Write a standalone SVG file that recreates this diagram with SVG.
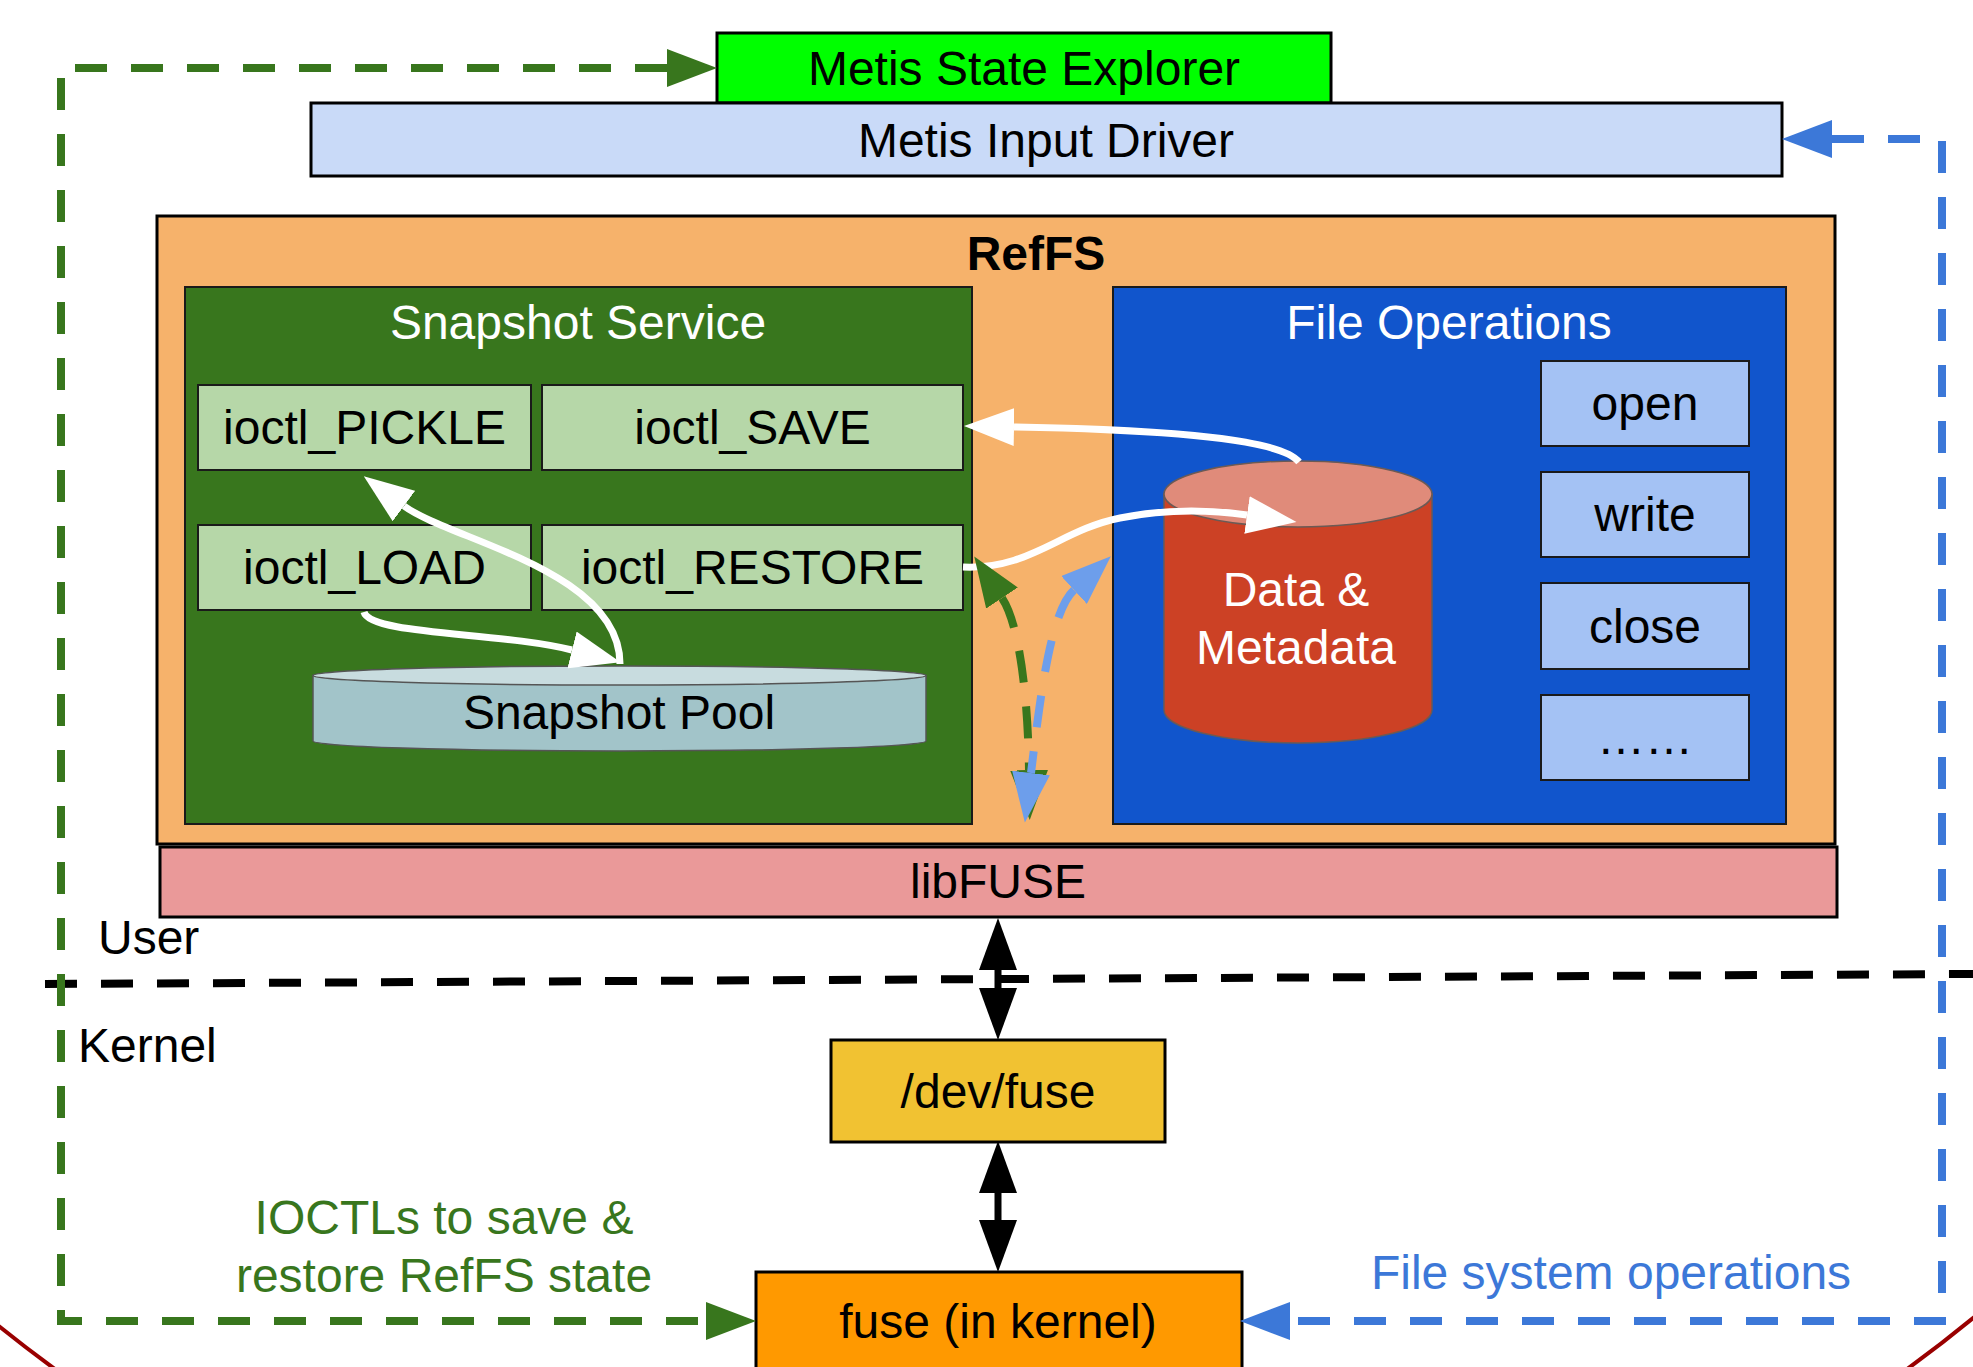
<svg xmlns="http://www.w3.org/2000/svg" width="1973" height="1367" viewBox="0 0 1973 1367">
<defs>
<style>
text{font-family:"Liberation Sans",Arial,sans-serif;font-size:48px;text-anchor:middle;fill:#000}
.box{stroke:#000;stroke-width:3}
.inner{stroke:#1a1a1a;stroke-width:2}
.w{fill:#fff}
.dg{fill:none;stroke:#38761d;stroke-width:8;stroke-dasharray:32 24}
.db{fill:none;stroke:#3c78d8;stroke-width:8;stroke-dasharray:32 24}
.dlb{fill:none;stroke:#6d9eeb;stroke-width:8;stroke-dasharray:32 24}
.wa{fill:none;stroke:#fff;stroke-width:7}
.ba{fill:none;stroke:#000;stroke-width:7}
</style>
<marker id="mw" viewBox="0 0 50 38" refX="0" refY="19" markerWidth="50" markerHeight="38" markerUnits="userSpaceOnUse" orient="auto-start-reverse"><path d="M0,0 L50,19 L0,38 Z" fill="#fff"/></marker>
<marker id="mg" viewBox="0 0 50 38" refX="0" refY="19" markerWidth="50" markerHeight="38" markerUnits="userSpaceOnUse" orient="auto-start-reverse"><path d="M0,0 L50,19 L0,38 Z" fill="#38761d"/></marker>
<marker id="mb" viewBox="0 0 50 38" refX="0" refY="19" markerWidth="50" markerHeight="38" markerUnits="userSpaceOnUse" orient="auto-start-reverse"><path d="M0,0 L50,19 L0,38 Z" fill="#3c78d8"/></marker>
<marker id="mlb" viewBox="0 0 50 38" refX="0" refY="19" markerWidth="50" markerHeight="38" markerUnits="userSpaceOnUse" orient="auto-start-reverse"><path d="M0,0 L50,19 L0,38 Z" fill="#6d9eeb"/></marker>
<marker id="mk" viewBox="0 0 52 38" refX="0" refY="19" markerWidth="52" markerHeight="38" markerUnits="userSpaceOnUse" orient="auto-start-reverse"><path d="M0,0 L52,19 L0,38 Z" fill="#000"/></marker>
</defs>
<rect width="1973" height="1367" fill="#fff"/>
<circle cx="981" cy="105" r="1567" fill="none" stroke="#990000" stroke-width="4"/>
<line x1="45" y1="984" x2="1973" y2="974" stroke="#000" stroke-width="8" stroke-dasharray="32 24"/>
<text x="98" y="954" style="text-anchor:start">User</text>
<text x="78" y="1062" style="text-anchor:start">Kernel</text>
<text x="444" y="1234" style="fill:#38761d">IOCTLs to save &amp;</text>
<text x="444" y="1292" style="fill:#38761d">restore RefFS state</text>
<text x="1611" y="1289" style="fill:#3c78d8">File system operations</text>

<g id="metis-state-explorer">
<rect class="box" x="717" y="33" width="614" height="70" fill="#00ff00"/>
<text x="1024" y="85">Metis State Explorer</text>
</g>
<g id="metis-input-driver">
<rect class="box" x="311" y="103" width="1471" height="73" fill="#c9daf8"/>
<text x="1046" y="157">Metis Input Driver</text>
</g>
<g id="reffs">
<rect class="box" x="157" y="216" width="1678" height="628" fill="#f6b26b"/>
<text x="1036" y="270" style="font-weight:bold">RefFS</text>
</g>
<g id="snapshot-service">
<rect class="inner" x="185" y="287" width="787" height="537" fill="#38761d"/>
<text class="w" x="578" y="339">Snapshot Service</text>
</g>
<g id="ioctl-pickle">
<rect class="inner" x="198" y="385" width="333" height="85" fill="#b6d7a8"/>
<text x="364.5" y="444">ioctl_PICKLE</text>
</g>
<g id="ioctl-save">
<rect class="inner" x="542" y="385" width="421" height="85" fill="#b6d7a8"/>
<text x="752.5" y="444">ioctl_SAVE</text>
</g>
<g id="ioctl-load">
<rect class="inner" x="198" y="525" width="333" height="85" fill="#b6d7a8"/>
<text x="364.5" y="584">ioctl_LOAD</text>
</g>
<g id="ioctl-restore">
<rect class="inner" x="542" y="525" width="421" height="85" fill="#b6d7a8"/>
<text x="752.5" y="584">ioctl_RESTORE</text>
</g>
<g id="snapshot-pool">
<path d="M313 675.5 V741 A306.5 10 0 0 0 926 741 V675.5 Z" fill="#a2c4c9" stroke="#555" stroke-width="1.5"/>
<ellipse cx="619.5" cy="675.5" rx="306.5" ry="9.5" fill="#c8dcdf" stroke="#555" stroke-width="1.5"/>
<text x="619" y="729">Snapshot Pool</text>
</g>
<g id="file-operations">
<rect class="inner" x="1113" y="287" width="673" height="537" fill="#1155cc"/>
<text class="w" x="1449" y="339">File Operations</text>
</g>
<g id="data-metadata">
<path d="M1164 494 V710 A134 33 0 0 0 1432 710 V494 Z" fill="#cc4125" stroke="#6b5a55" stroke-width="1.5"/>
<ellipse cx="1298" cy="494" rx="134" ry="33" fill="#e08b7a" stroke="#6b5a55" stroke-width="1.5"/>
<text class="w" x="1296" y="606">Data &amp;</text>
<text class="w" x="1296" y="664">Metadata</text>
</g>
<g id="op-open">
<rect class="inner" x="1541" y="361" width="208" height="85" fill="#a4c2f4"/>
<text x="1645" y="420">open</text>
</g>
<g id="op-write">
<rect class="inner" x="1541" y="472" width="208" height="85" fill="#a4c2f4"/>
<text x="1645" y="531">write</text>
</g>
<g id="op-close">
<rect class="inner" x="1541" y="583" width="208" height="86" fill="#a4c2f4"/>
<text x="1645" y="643">close</text>
</g>
<g id="op-more">
<rect class="inner" x="1541" y="695" width="208" height="85" fill="#a4c2f4"/>
<text x="1645" y="754">……</text>
</g>
<g id="libfuse">
<rect class="box" x="160" y="847" width="1677" height="70" fill="#ea9999"/>
<text x="998" y="898">libFUSE</text>
</g>
<g id="dev-fuse">
<rect class="box" x="831" y="1040" width="334" height="102" fill="#f1c232"/>
<text x="998" y="1108">/dev/fuse</text>
</g>
<g id="fuse-kernel">
<rect class="box" x="756" y="1272" width="486" height="130" fill="#ff9900"/>
<text x="998" y="1338">fuse (in kernel)</text>
</g>

<g id="connectors">
<path class="dg" d="M667 68 H61 V1321 H706" marker-start="url(#mg)" marker-end="url(#mg)"/>
<path class="db" d="M1832 139 H1942 V1321 H1290" marker-start="url(#mb)" marker-end="url(#mb)"/>
<path class="ba" d="M998 970 V988" marker-start="url(#mk)" marker-end="url(#mk)"/>
<path class="ba" d="M998 1193 V1220" marker-start="url(#mk)" marker-end="url(#mk)"/>
<path class="wa" d="M1299 462 C1282 440,1180 430,1014 427" marker-end="url(#mw)"/>
<path class="wa" d="M963 567 C1030 570,1060 530,1120 518 C1170 508,1212 510,1247 515" marker-end="url(#mw)"/>
<path class="wa" d="M620 664 C620 570,450 540,404 506" marker-end="url(#mw)"/>
<path class="wa" d="M364 612 C370 635,500 632,572 650" marker-end="url(#mw)"/>
<path class="dg" d="M1002 598 C1020 625,1028 700,1029 770" marker-start="url(#mg)" marker-end="url(#mg)"/>
<path class="dlb" d="M1074 590 C1050 612,1040 700,1031 773" marker-start="url(#mlb)" marker-end="url(#mlb)"/>
</g>
</svg>
